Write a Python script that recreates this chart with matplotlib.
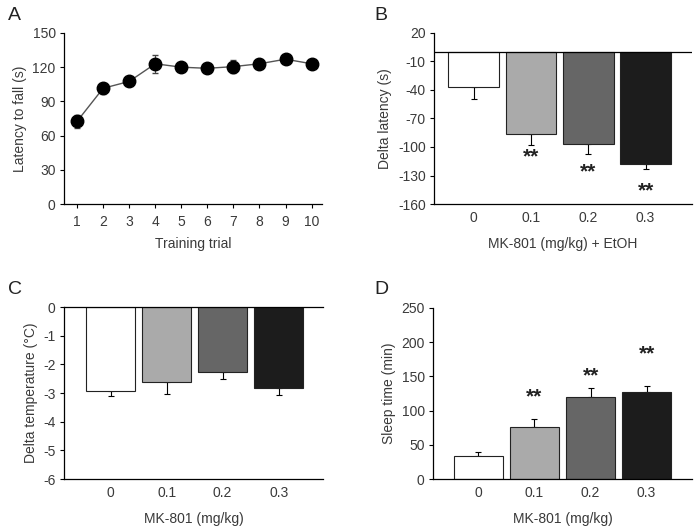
import numpy as np
import matplotlib
matplotlib.use("Agg")
import matplotlib.pyplot as plt

plt.rcParams["font.family"] = ["Liberation Sans", "DejaVu Sans"]
plt.rcParams["axes.unicode_minus"] = False

# A - rotarod training
trials = [1, 2, 3, 4, 5, 6, 7, 8, 9, 10]
latency = [72.5, 101.5, 107.5, 123, 120, 119, 120.5, 123, 127, 123]
latency_err = [6, 5, 3, 8, 3, 3, 6, 4, 3, 3]

# B, C, D - dose groups
doses = ["0", "0.1", "0.2", "0.3"]
delta_latency = [-37, -86, -97, -118]
delta_latency_err = [13, 11.5, 10, 5.5]
delta_temp = [-2.92, -2.63, -2.28, -2.81]
delta_temp_err = [0.19, 0.4, 0.23, 0.27]
sleep_time = [33, 76.5, 119.5, 127.5]
sleep_time_err = [6, 10.5, 14, 9]

bar_colors = ["#ffffff", "#aaaaaa", "#666666", "#1c1c1c"]
txt = "#3a3a3a"
fs = 10

fig = plt.figure(figsize=(6.99, 5.31), dpi=100)
axA = fig.add_axes([0.0916, 0.6158, 0.3691, 0.3221])
axB = fig.add_axes([0.6209, 0.6158, 0.3691, 0.3221])
axC = fig.add_axes([0.0916, 0.0979, 0.3704, 0.3239])
axD = fig.add_axes([0.6195, 0.0979, 0.3705, 0.3221])


def style(ax, xticks=True):
    ax.spines["top"].set_visible(False)
    ax.spines["right"].set_visible(False)
    for s in ("left", "bottom"):
        ax.spines[s].set_linewidth(0.9)
    ax.tick_params(axis="y", direction="out", length=3, width=0.8,
                   labelsize=fs, labelcolor=txt, pad=3)
    ax.tick_params(axis="x", direction="out", length=3 if xticks else 0,
                   width=0.8, labelsize=fs, labelcolor=txt, pad=5)


# panel A
axA.errorbar(trials, latency, yerr=latency_err, fmt="-o", color="#555555",
             lw=1, mfc="black", mec="black", ms=9, ecolor="#444444",
             elinewidth=0.8, capsize=2)
axA.set_xlim(0.5, 10.4)
axA.set_ylim(0, 150)
axA.set_xticks(trials)
axA.set_yticks([0, 30, 60, 90, 120, 150])
axA.set_xlabel("Training trial", fontsize=fs, color=txt, labelpad=6)
axA.set_ylabel("Latency to fall (s)", fontsize=fs, color=txt, labelpad=4)
style(axA)

x = np.arange(len(doses))
w = 0.885


def bars(ax, vals, errs, down):
    ax.bar(x, vals, width=w, color=bar_colors, edgecolor="#222222", lw=0.8,
           zorder=2)
    yerr = [errs, [0] * len(errs)] if down else [[0] * len(errs), errs]
    ax.errorbar(x, vals, yerr=yerr, fmt="none", ecolor="black",
                elinewidth=0.8, capsize=2.5, capthick=0.8, zorder=1)
    ax.set_xticks(x)
    ax.set_xticklabels(doses)


# panel B
bars(axB, delta_latency, delta_latency_err, True)
axB.axhline(0, color="black", lw=0.9, zorder=3)
axB.set_xlim(-0.69, 3.81)
axB.set_ylim(-160, 20)
axB.set_yticks([20, -10, -40, -70, -100, -130, -160])
axB.set_xlabel("MK-801 (mg/kg) + EtOH", fontsize=fs, color=txt, labelpad=9)
axB.set_ylabel("Delta latency (s)", fontsize=fs, color=txt, labelpad=4)
for xi, yv in zip([1, 2, 3], [-110, -126, -146]):
    axB.text(xi, yv, "**", ha="center", va="center", fontsize=15,
             fontweight="bold", color="#222222")
style(axB, xticks=False)

# panel C
bars(axC, delta_temp, delta_temp_err, True)
axC.axhline(0, color="black", lw=0.9, zorder=3, clip_on=False)
axC.set_xlim(-0.83, 3.79)
axC.set_ylim(-6, 0)
axC.set_yticks([0, -1, -2, -3, -4, -5, -6])
axC.set_xlabel("MK-801 (mg/kg)", fontsize=fs, color=txt, labelpad=9)
axC.set_ylabel("Delta temperature (°C)", fontsize=fs, color=txt, labelpad=4)
style(axC, xticks=False)

# panel D
bars(axD, sleep_time, sleep_time_err, False)
axD.set_xlim(-0.81, 3.81)
axD.set_ylim(0, 250)
axD.set_yticks([0, 50, 100, 150, 200, 250])
axD.set_xlabel("MK-801 (mg/kg)", fontsize=fs, color=txt, labelpad=9)
axD.set_ylabel("Sleep time (min)", fontsize=fs, color=txt, labelpad=4)
for xi, yv in zip([1, 2, 3], [120, 151, 183]):
    axD.text(xi, yv, "**", ha="center", va="center", fontsize=15,
             fontweight="bold", color="#222222")
style(axD, xticks=False)

for lab, px, py in [("A", 14, 15), ("B", 381, 15), ("C", 15, 290), ("D", 381, 290)]:
    fig.text(px / 699, 1 - py / 531, lab, fontsize=14, color="#222222",
             ha="center", va="center")

fig.savefig("out.png", dpi=100)
